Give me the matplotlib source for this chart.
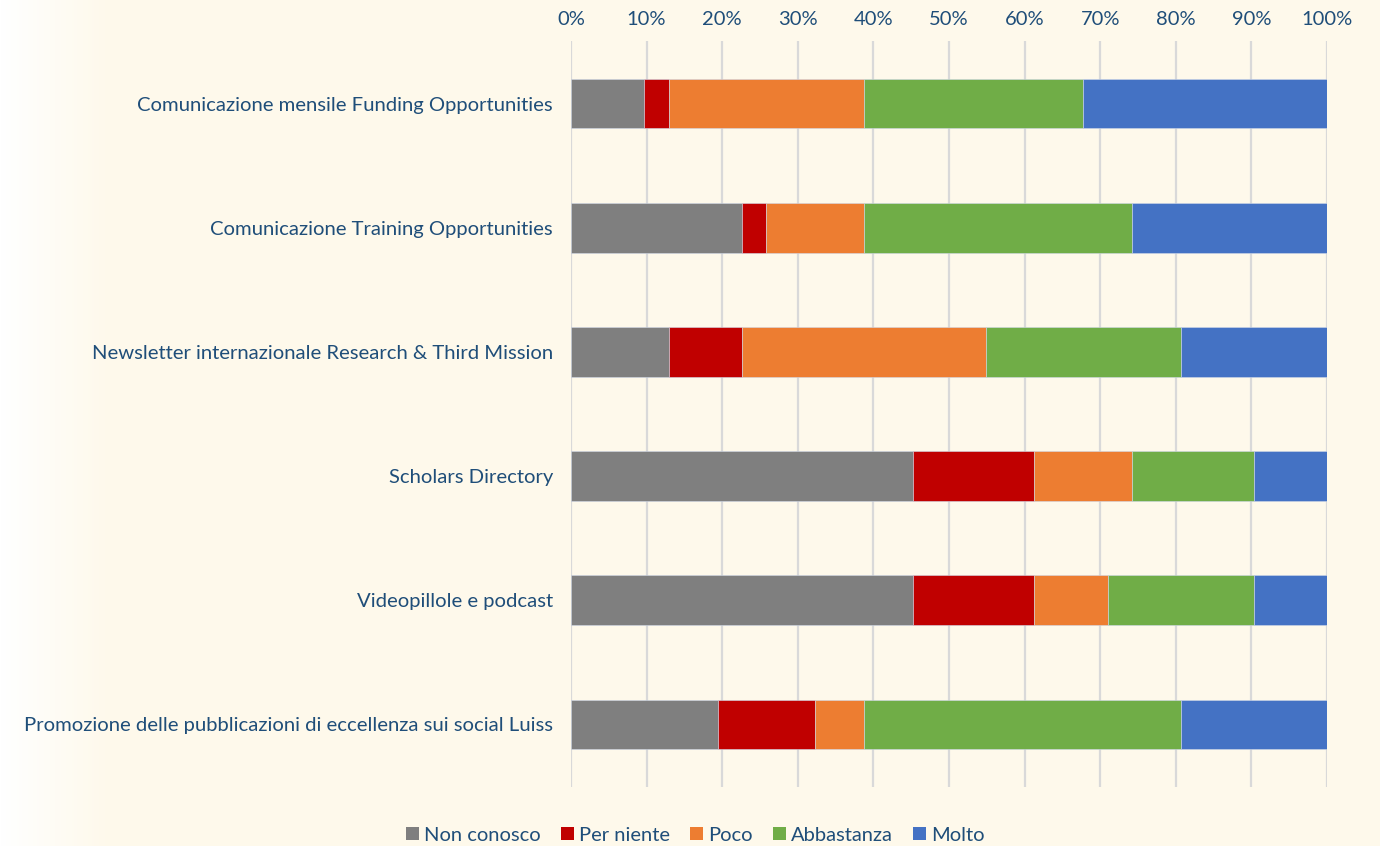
import matplotlib
matplotlib.use("Agg")
import matplotlib.pyplot as plt
import numpy as np
from matplotlib.patches import Patch
from matplotlib.ticker import PercentFormatter

categories = [
    "Comunicazione mensile Funding Opportunities",
    "Comunicazione Training Opportunities",
    "Newsletter internazionale Research & Third Mission",
    "Scholars Directory",
    "Videopillole e podcast",
    "Promozione delle pubblicazioni di eccellenza sui social Luiss",
]
series_names = ["Non conosco", "Per niente", "Poco", "Abbastanza", "Molto"]
non_conosco = [9.7, 22.6, 12.9, 45.2, 45.2, 19.4]
per_niente = [3.2, 3.2, 9.7, 16.1, 16.1, 12.9]
poco = [25.8, 12.9, 32.3, 12.9, 9.7, 6.5]
abbastanza = [29.0, 35.5, 25.8, 16.1, 19.4, 41.9]
molto = [32.3, 25.8, 19.4, 9.7, 9.7, 19.4]
xticks = [0, 10, 20, 30, 40, 50, 60, 70, 80, 90, 100]

colors = ["#7F7F7F", "#C00000", "#ED7D31", "#70AD47", "#4472C4"]
txt = "#1F4E79"
bg = "#FEF9EB"

plt.rcParams['font.family'] = ['Lato', 'DejaVu Sans']

fig = plt.figure(figsize=(13.8, 8.46), dpi=100)
fig.patch.set_facecolor(bg)

# background gradient on left edge
bgax = fig.add_axes([0, 0, 1, 1], zorder=-10)
grad = np.linspace(0, 1, 1380)
grad = np.clip(grad / (110 / 1380), 0, 1)
c0 = np.array([1.0, 1.0, 1.0])
c1 = np.array(matplotlib.colors.to_rgb(bg))
img = c0[None, None, :] * (1 - grad[None, :, None]) + c1[None, None, :] * grad[None, :, None]
bgax.imshow(img, aspect='auto', extent=[0, 1, 0, 1])
bgax.axis('off')

ax = fig.add_axes([571 / 1380, 1 - 786.5 / 846, (1327 - 571) / 1380, (786.5 - 41.5) / 846])
ax.set_facecolor('none')

data = [non_conosco, per_niente, poco, abbastanza, molto]
y = np.arange(len(categories))
left = np.zeros(len(categories))
for name, vals, col in zip(series_names, data, colors):
    vals = np.array(vals)
    ax.barh(y, vals, left=left, height=0.4, color=col, label=name,
            edgecolor='#D0D8E8', linewidth=0.4, zorder=3)
    left += vals

ax.set_ylim(len(categories) - 0.5, -0.5)
ax.set_xlim(0, 100)
ax.set_yticks(y)
ax.set_yticklabels(categories, fontsize=14.6, color=txt)
ax.set_xticks(xticks)
ax.xaxis.set_major_formatter(PercentFormatter(decimals=0))
ax.xaxis.tick_top()
ax.tick_params(axis='x', labelsize=14.5, colors=txt, length=0, pad=10)
ax.tick_params(axis='y', length=0, pad=13)
ax.grid(axis='x', color='#D9D9D9', linewidth=1.6, zorder=0)
for s in ax.spines.values():
    s.set_visible(False)

handles = [Patch(facecolor=c, edgecolor='none') for c in colors]
fig.legend(handles, series_names, loc='center', bbox_to_anchor=(695 / 1380, 1 - 835 / 846),
           ncol=5, frameon=False, fontsize=14.5, labelcolor=txt,
           handlelength=0.65, handleheight=0.65, handletextpad=0.25, columnspacing=1.0)

fig.savefig("out.png", dpi=100, facecolor=fig.get_facecolor())
